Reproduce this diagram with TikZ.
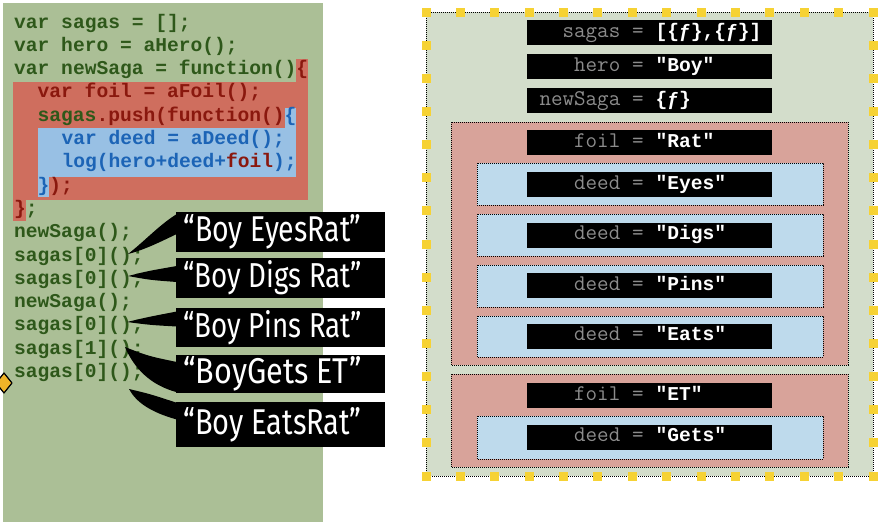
\documentclass[tikz,border=0pt]{standalone}
\usepackage{fontspec}
\usepackage{graphicx}
\newfontfamily\codefont{Liberation Mono}
\newfontfamily\handfont{Fira Sans}
\usetikzlibrary{calc}

\definecolor{panelgreen}{RGB}{171,191,150}
\definecolor{scopegreen}{RGB}{211,221,203}
\definecolor{scopered}{RGB}{216,163,154}
\definecolor{scopeblue}{RGB}{190,218,236}
\definecolor{hlred}{RGB}{207,110,94}
\definecolor{hlblue}{RGB}{152,192,228}
\definecolor{cgreen}{RGB}{46,88,26}
\definecolor{cred}{RGB}{138,24,14}
\definecolor{cblue}{RGB}{28,100,182}
\definecolor{namegray}{RGB}{140,140,140}
\definecolor{dotyellow}{RGB}{246,210,52}
\definecolor{marker}{RGB}{240,180,40}

\newcommand\codesize{\fontsize{19.6}{20}\selectfont}
\newcommand\namesize{\fontsize{22.4}{23}\selectfont}
\newcommand\bubtext[1]{\resizebox{178pt}{27pt}{#1}\hspace*{16pt}}
% variable name (thin typewriter, grey) aligned on the "=" sign, bold value in white;
% one character cell is 11.76pt wide
\newcommand\binding[2]{%
  \makebox[93.3pt][r]{\color{namegray}\ttfamily\namesize #1}\hspace*{11.76pt}%
  \makebox[11.76pt]{\color{namegray}\ttfamily\namesize =}\hspace*{11.76pt}%
  {\color{white}\codefont\bfseries\codesize #2}\hspace*{\fill}}

\tikzset{
  code/.style={anchor=base west, inner sep=0pt, text=cgreen,
    font=\codefont\bfseries\codesize},
  bubble/.style={fill=black, text=white, inner sep=0pt, minimum width=209pt,
    font=\handfont},
  tail/.style={fill=black},
  bar/.style={fill=black, inner sep=0pt, minimum width=245pt, minimum height=25pt,
    text width=245pt, text height=13pt, text depth=4pt},
  scopebox/.style={draw=black, line width=0.6pt, dash pattern=on 0.7pt off 1.3pt},
}

\begin{document}
\begin{tikzpicture}[x=1pt,y=-1pt]
\useasboundingbox (0,0) rectangle (896,525);
\fill[white] (0,0) rectangle (896,525);

% ---------- code panel ----------
\fill[panelgreen] (3,3) rectangle (323,522);

% closure highlights (character cell width 11.76)
\fill[hlred] (296.2,59) rectangle (308,82);
\fill[hlred] (13,82) rectangle (308,200);
\fill[hlred] (13,200) rectangle (25.8,221);
\fill[hlblue] (284.5,108) rectangle (296.3,128);
\fill[hlblue] (37.5,128) rectangle (296.3,177);
\fill[hlblue] (37.5,177) rectangle (49.3,197);

\node[code] (l1)  at (14,28)    {var sagas = [];};
\node[code] (l2)  at (14,51.3)  {var hero = aHero();};
\node[code] (l3)  at (14,74.6)  {var newSaga = function()\textcolor{cred}{\{}};
\node[code, text=cred] (l4)  at (37.5,97.9)  {var foil = aFoil();};
\node[code, text=cred] (l5)  at (37.5,121.2) {\textcolor{cgreen}{sagas}.push(function()\textcolor{cblue}{\{}};
\node[code, text=cblue] (l6) at (61.3,144.5) {var deed = aDeed();};
\node[code, text=cblue] (l7) at (61.3,167.8) {log(hero+deed+\textcolor{cred}{foil});};
\node[code, text=cred] (l8)  at (37.5,191.1) {\textcolor{cblue}{\}});};
\node[code] (l9)  at (14,214.4) {\textcolor{cred}{\}};};
\node[code] (l10) at (14,237.7) {newSaga();};
\node[code] (l11) at (14,261)   {sagas[0]();};
\node[code] (l12) at (14,284.3) {sagas[0]();};
\node[code] (l13) at (14,307.6) {newSaga();};
\node[code] (l14) at (14,330.9) {sagas[0]();};
\node[code] (l15) at (14,354.2) {sagas[1]();};
\node[code] (l16) at (14,377.5) {sagas[0]();};

% current-line marker
\filldraw[fill=marker, draw=black, line width=1.2pt, line join=round]
  (-4,383) -- (4,373) -- (12,383) -- (4,393) -- cycle;

% ---------- speech bubbles ----------
\node[bubble, minimum height=40pt] (b1) at (280.5,232)   {\bubtext{“Boy EyesRat”}};
\node[bubble, minimum height=40pt] (b2) at (280.5,278)   {\bubtext{“Boy Digs Rat”}};
\node[bubble, minimum height=39pt] (b3) at (280.5,327.5) {\bubtext{“Boy Pins Rat”}};
\node[bubble, minimum height=38pt] (b4) at (280.5,374)   {\bubtext{“BoyGets ET”}};
\node[bubble, minimum height=45pt] (b5) at (280.5,424.5) {\bubtext{“Boy EatsRat”}};

\coordinate (t1) at (128,254);
\coordinate (t2) at (128,276);
\coordinate (t3) at (127,322);
\coordinate (t4) at (125,347);
\coordinate (t5) at (129,389);

\fill[tail] (t1) .. controls (146,240) and (160,224) .. ($(b1.north west)+(3,1)$)
  -- ($(b1.west)+(1,2)$) .. controls (160,242) and (144,250) .. (t1);
\fill[tail] (t2) .. controls (148,271) .. ($(b2.west)+(1,-12)$)
  -- ($(b2.west)+(1,4)$) .. controls (150,280) .. (t2);
\fill[tail] (t3) .. controls (148,317) .. ($(b3.west)+(1,-16)$)
  -- ($(b3.west)+(1,-1)$) .. controls (150,325) .. (t3);
\fill[tail] (t4) .. controls (148,356) .. ($(b4.west)+(1,-12)$)
  -- ($(b4.south west)+(1,-1)$) .. controls (150,385) and (134,368) .. (t4);
\fill[tail] (t5) .. controls (150,394) .. ($(b5.north west)+(1,1)$)
  -- ($(b5.west)+(1,-5)$) .. controls (150,412) and (136,402) .. (t5);

% ---------- scope diagram ----------
\fill[scopegreen] (426,12) rectangle (873,476);
\draw[scopebox] (426,12) rectangle (873,476);
\foreach \i in {0,...,13} {
  \fill[dotyellow] ({426+\i*447/13},12) +(-4.5,-4.5) rectangle +(4.5,4.5);
  \fill[dotyellow] ({426+\i*447/13},476) +(-4.5,-4.5) rectangle +(4.5,4.5);
}
\foreach \j in {1,...,13} {
  \fill[dotyellow] (426,{12+\j*464/14}) +(-4.5,-4.5) rectangle +(4.5,4.5);
  \fill[dotyellow] (873,{12+\j*464/14}) +(-4.5,-4.5) rectangle +(4.5,4.5);
}

\filldraw[scopebox, fill=scopered] (451,122) rectangle (848,365);
\filldraw[scopebox, fill=scopered] (451,374) rectangle (848,467);
\filldraw[scopebox, fill=scopeblue] (477,163) rectangle (823,205);
\filldraw[scopebox, fill=scopeblue] (477,214) rectangle (823,256);
\filldraw[scopebox, fill=scopeblue] (477,265) rectangle (823,307);
\filldraw[scopebox, fill=scopeblue] (477,316) rectangle (823,357);
\filldraw[scopebox, fill=scopeblue] (477,416) rectangle (823,459);

\node[bar] (v1)  at (649.5,32.5)  {\binding{sagas}{[\{ƒ\},\{ƒ\}]}};
\node[bar] (v2)  at (649.5,66.5)  {\binding{hero}{"Boy"}};
\node[bar] (v3)  at (649.5,100.5) {\binding{newSaga}{\{ƒ\}}};
\node[bar] (v4)  at (649.5,142.5) {\binding{foil}{"Rat"}};
\node[bar] (v5)  at (649.5,184.5) {\binding{deed}{"Eyes"}};
\node[bar] (v6)  at (649.5,235)   {\binding{deed}{"Digs"}};
\node[bar] (v7)  at (649.5,285.5) {\binding{deed}{"Pins"}};
\node[bar] (v8)  at (649.5,336)   {\binding{deed}{"Eats"}};
\node[bar] (v9)  at (649.5,395.5) {\binding{foil}{"ET"}};
\node[bar] (v10) at (649.5,437)   {\binding{deed}{"Gets"}};
\end{tikzpicture}
\end{document}
